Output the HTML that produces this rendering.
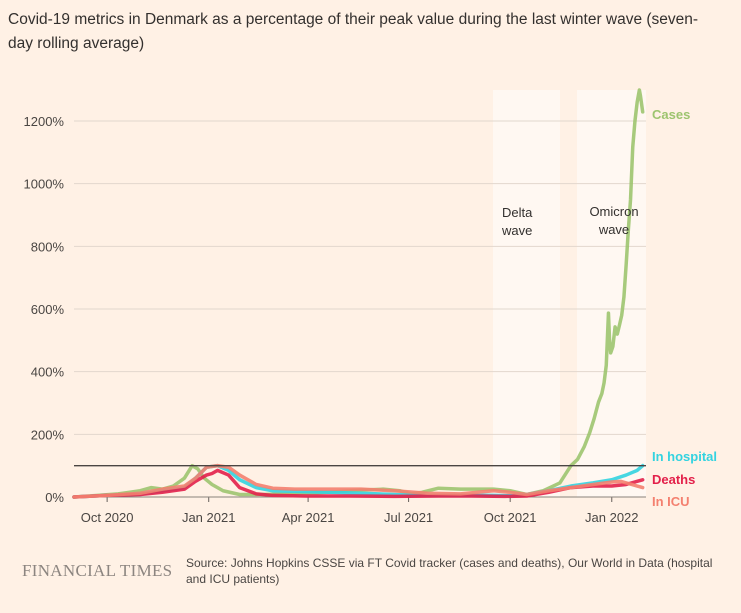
<!DOCTYPE html>
<html><head><meta charset="utf-8">
<style>
html,body{margin:0;padding:0;background:#fff1e5;}
body{width:741px;height:613px;position:relative;overflow:hidden;font-family:"Liberation Sans",sans-serif;color:#33302e;}
#title{position:absolute;left:8px;top:8px;white-space:nowrap;font-size:15.5px;line-height:24px;color:#33302e;}
#ft{position:absolute;left:22px;top:561px;font-family:"Liberation Serif",serif;font-size:17px;color:#8c8580;letter-spacing:0.3px;}
#src{position:absolute;left:186px;top:555px;width:540px;font-size:12px;line-height:16px;color:#4a4643;}
svg{position:absolute;left:0;top:0;}
</style></head><body>
<div id="title">Covid-19 metrics in Denmark as a percentage of their peak value during the last winter wave (seven-<br>day rolling average)</div>
<svg id="chart" width="741" height="613"></svg>
<div id="ft">FINANCIAL TIMES</div>
<div id="src">Source: Johns Hopkins CSSE via FT Covid tracker (cases and deaths), Our World in Data (hospital and ICU patients)</div>
<script>
// days since 2020-09-01
const yTicks=[0,200,400,600,800,1000,1200];
const xTickLabels=["Oct 2020","Jan 2021","Apr 2021","Jul 2021","Oct 2021","Jan 2022"];
const xTickDays=[30,122,212,303,395,487];
const casesDays=[0,20,40,60,70,80,90,100,107,112,118,125,135,150,170,200,230,260,280,295,305,315,330,350,380,395,410,425,440,450,456,462,467,471,475,478,480,482,484,485,486,488,490,492,494,496,498,500,502,504,506,508,510,512,513,515];
const casesVals=[0,5,10,20,30,25,35,60,100,90,60,40,20,8,8,10,15,22,25,20,10,15,28,25,25,20,8,20,45,100,120,160,205,250,303,330,364,420,587,500,460,480,543,520,549,580,638,740,852,950,1117,1200,1260,1299,1280,1229];
const hospDays=[0,30,60,80,100,110,120,130,140,150,165,180,200,230,260,290,320,350,380,395,410,430,450,470,487,500,510,515];
const hospVals=[0,5,10,20,30,60,95,100,85,55,30,20,18,15,12,8,5,5,5,4,8,20,35,45,55,70,85,100];
const deathDays=[0,30,60,80,100,110,120,125,130,140,150,165,180,210,250,290,330,360,390,410,430,450,470,487,500,510,515];
const deathVals=[0,5,8,15,25,50,70,75,85,70,30,10,5,3,3,2,3,3,2,3,15,30,35,35,40,50,55];
const icuDays=[0,30,60,80,100,110,120,130,140,150,165,180,200,230,260,290,320,350,380,395,410,430,450,470,487,495,505,515];
const icuVals=[0,5,12,25,35,60,95,100,95,70,40,28,25,25,25,20,12,10,20,15,8,20,30,40,48,50,40,30];

const NS="http://www.w3.org/2000/svg";
const svg=document.getElementById('chart');
const X0=74,X1=646,D1=518,Y0=497,PER=376/1200;
const xs=d=>X0+d*(X1-X0)/D1;
const ys=v=>Y0-v*PER;
function mk(t,a){const e=document.createElementNS(NS,t);for(const k in a)e.setAttribute(k,a[k]);svg.appendChild(e);return e;}

const b1=mk('rect',{x:493,y:90,width:67,height:407,fill:'#fff8f2'});

const b2=mk('rect',{x:577,y:90,width:69,height:407,fill:'#fff8f2'});


yTicks.forEach(v=>{
  if(v>0){const l=mk('line',{x1:X0,x2:X1,y1:ys(v),y2:ys(v),stroke:'#e2d7cd','stroke-width':1});
  }
  const t=mk('text',{x:64,y:ys(v)+5,'text-anchor':'end','font-size':'13',fill:'#4a4643'});
  t.textContent=v+'%';
  
});
xTickDays.forEach((d,i)=>{
  const l=mk('line',{x1:xs(d),x2:xs(d),y1:Y0,y2:Y0+5,stroke:'#66605c'});
  
  const t=mk('text',{x:xs(d),y:522,'text-anchor':'middle','font-size':'13',fill:'#4a4643'});
  t.textContent=xTickLabels[i];
  
});
const base=mk('line',{x1:X0,x2:X1,y1:Y0,y2:Y0,stroke:'#8a827c'});


function series(days,vals,color,name){
  const p=mk('polyline',{points:days.map((d,i)=>xs(d)+','+ys(vals[i])).join(' '),fill:'none',stroke:color,'stroke-width':3.5,'stroke-linejoin':'round','stroke-linecap':'round','stroke-opacity':0.9});
  
}
series(casesDays,casesVals,'#9dc46f','cases-line');
series(hospDays,hospVals,'#33d3e0','hospital-line');
series(deathDays,deathVals,'#e3204a','deaths-line');
series(icuDays,icuVals,'#f4806f','icu-line');

const ref=mk('line',{x1:X0,x2:X1,y1:ys(100),y2:ys(100),stroke:'#4a4542','stroke-width':1.3});


function lbl(x,y,txt,c,name,anchor,w){const t=mk('text',{x:x,y:y,'font-size':'13','font-weight':w||'bold',fill:c,'text-anchor':anchor||'start'});t.textContent=txt;
}
lbl(652,119,'Cases','#9dc46f','legend-cases');
lbl(652,461,'In hospital','#33d3e0','legend-in-hospital');
lbl(652,484,'Deaths','#e3204a','legend-deaths');
lbl(652,506,'In ICU','#f4806f','legend-in-icu');
lbl(502,217,'Delta','#33302e','delta-label','start','normal');
lbl(502,235,'wave','#33302e','delta-label-2','start','normal');
lbl(614,216,'Omicron','#33302e','omicron-label','middle','normal');
lbl(614,234,'wave','#33302e','omicron-label-2','middle','normal');
</script>
</body></html>
